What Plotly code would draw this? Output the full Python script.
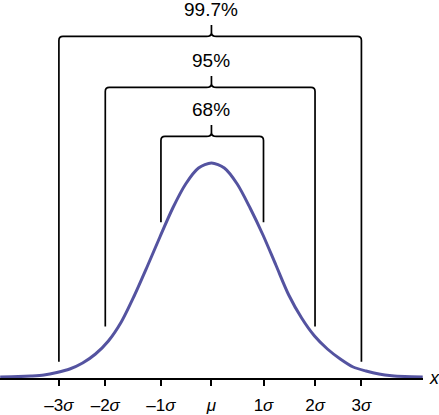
import plotly.graph_objects as go

# normal curve (x in sigma units, height in px above the axis)
curve_x = [-4.1, -3.75, -3.5, -3.25, -3.0, -2.75, -2.5, -2.25, -2.0, -1.75, -1.5, -1.25,
           -1.0, -0.75, -0.5, -0.25, 0.0, 0.25, 0.5, 0.75, 1.0, 1.25, 1.5, 1.75,
           2.0, 2.25, 2.5, 2.75, 3.0, 3.25, 3.5, 3.75, 4.1]
curve_h = [1.0, 1.4, 2.0, 3.0, 5.5, 9, 15, 24, 37, 56, 82, 111,
           141, 170, 194, 210, 215, 210, 194, 170, 143, 113, 83, 60,
           42, 29, 19, 11, 7, 4, 2.3, 1.5, 1.0]

# tick positions / labels
tick_pos = [-2.96, -2.06, -0.98, 0.0, 1.01, 2.01, 2.91]
tick_text = ["–3<i>σ</i>", "–2<i>σ</i>", "–1<i>σ</i>", "<i>μ</i>", "1<i>σ</i>", "2<i>σ</i>", "3<i>σ</i>"]

# brackets: label, tick index of left / right leg
bracket_labels = ["68%", "95%", "99.7%"]
bracket_left_idx = [2, 1, 0]
bracket_right_idx = [4, 5, 6]
bracket_top = [241.6, 290.6, 341.6]
bracket_bottom = [155.8, 51.6, 16.3]

PX = 1 / 51.53  # sigma per pixel
FONT = "Liberation Sans, Arial, sans-serif"

fig = go.Figure()
fig.add_trace(go.Scatter(x=curve_x, y=curve_h, mode="lines",
                         line=dict(color="#5453a0", width=3, shape="spline", smoothing=0.8),
                         hoverinfo="skip"))


def bracket_path(L, R, top, bot, c=0.0):
    r = 4  # corner radius px
    bw, bh, stub = 5, 4, 11.5
    p = f"M {L},{bot} L {L},{top - r} Q {L},{top} {L + r * PX},{top} "
    p += f"L {c - bw * PX},{top} Q {c},{top} {c},{top + bh} L {c},{top + stub} "
    p += f"M {c},{top + bh} Q {c},{top} {c + bw * PX},{top} "
    p += f"L {R - r * PX},{top} Q {R},{top} {R},{top - r} L {R},{bot}"
    return p


for lab, li, ri, top, bot in zip(bracket_labels, bracket_left_idx, bracket_right_idx,
                                 bracket_top, bracket_bottom):
    fig.add_shape(type="path", xref="x", yref="y",
                  path=bracket_path(tick_pos[li], tick_pos[ri], top, bot),
                  line=dict(color="black", width=1.7))
    fig.add_annotation(x=0, y=top + 26.5, text=lab, showarrow=False,
                       xanchor="center", yanchor="middle",
                       font=dict(family=FONT, size=19, color="black"))

# axis variable label
fig.add_annotation(xref="paper", yref="y", x=1, y=0, text="<i>x</i>", showarrow=False,
                   xanchor="left", yanchor="middle", xshift=4,
                   font=dict(family=FONT, size=18, color="black"))

fig.update_xaxes(range=[-4.103, 4.105], showline=True, linecolor="black", linewidth=1.5,
                 ticks="outside", ticklen=6, tickwidth=1.5, tickcolor="black",
                 tickvals=tick_pos, ticktext=tick_text, ticklabelstandoff=5,
                 tickfont=dict(family=FONT, size=17, color="black"),
                 showgrid=False, zeroline=False, fixedrange=True)
fig.update_yaxes(range=[0, 378], visible=False, showgrid=False, zeroline=False)

fig.update_layout(width=439, height=415, margin=dict(l=0, r=16, t=0, b=37),
                  plot_bgcolor="white", paper_bgcolor="white", showlegend=False)

fig.write_html("out.html", config={"displayModeBar": False},
               post_script="document.body.style.margin='0';")
